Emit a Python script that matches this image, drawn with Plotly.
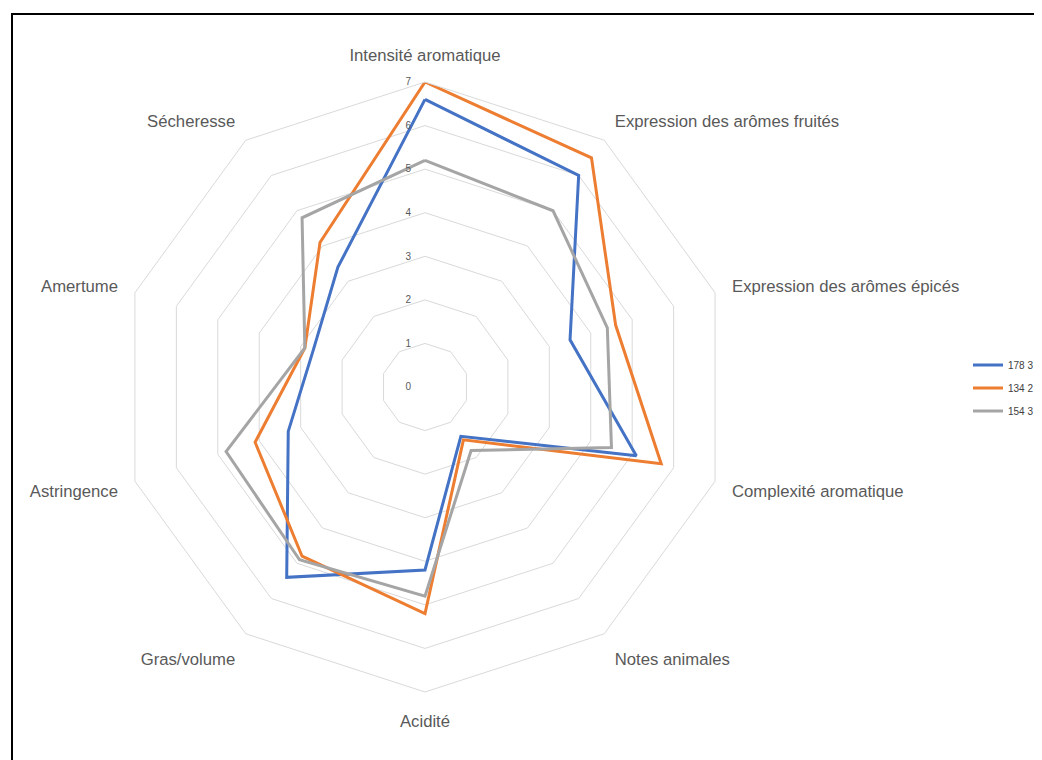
import plotly.graph_objects as go

categories = ["Intensité aromatique", "Expression des arômes fruités", "Expression des arômes épicés",
              "Complexité aromatique", "Notes animales", "Acidité", "Gras/volume",
              "Astringence", "Amertume", "Sécheresse"]

series_names = ["178 3", "134 2", "154 3"]
s1 = [6.6, 6.0, 3.5, 5.1, 1.4, 4.2, 5.4, 3.3, 2.7, 3.4]
s2 = [7.0, 6.5, 4.6, 5.7, 1.5, 5.2, 4.8, 4.1, 2.9, 4.1]
s3 = [5.2, 5.0, 4.4, 4.5, 1.8, 4.8, 4.9, 4.8, 2.9, 4.8]
colors = ["#4472C4", "#ED7D31", "#A5A5A5"]
radial_ticks = [0, 1, 2, 3, 4, 5, 6, 7]

# page body has an 8px margin: work in figure coordinates = screen - 8
OFF = 8
W, H = 1042 - OFF, 760 - OFF
cx, cy, R = 425 - OFF, 387 - OFF, 305

fig = go.Figure()
for name, vals, col in zip(series_names, [s1, s2, s3], colors):
    fig.add_trace(go.Scatterpolar(
        r=vals + vals[:1], theta=categories + categories[:1],
        mode="lines", name=name, legendgroup=name,
        line=dict(color=col, width=3),
    ))

font_family = "Liberation Sans, Arial, sans-serif"
fig.update_layout(
    width=W, height=H,
    margin=dict(l=0, r=0, t=0, b=0, autoexpand=False),
    paper_bgcolor="white",
    font=dict(family=font_family, color="#595959"),
    polar=dict(
        domain=dict(x=[(cx - R) / W, (cx + R) / W], y=[(H - cy - R) / H, (H - cy + R) / H]),
        bgcolor="white",
        gridshape="linear",
        radialaxis=dict(
            range=[0, 7], tickvals=radial_ticks, angle=90, side="counterclockwise",
            tickangle=90,
            showline=False, gridcolor="#D9D9D9", gridwidth=1,
            tickfont=dict(size=10, color="#595959"),
            ticks="outside", ticklen=10, tickcolor="rgba(0,0,0,0)",
        ),
        angularaxis=dict(
            rotation=90, direction="clockwise", showgrid=False,
            showline=True, linecolor="#D9D9D9", linewidth=1,
            ticks="outside", ticklen=14, tickcolor="rgba(0,0,0,0)",
            tickfont=dict(size=16.7, color="#595959"),
        ),
    ),
    showlegend=True,
    legend=dict(
        x=(968 - OFF) / W, y=1 - (388 - OFF) / H, xanchor="left", yanchor="middle",
        font=dict(size=10, color="#404040"), bgcolor="rgba(0,0,0,0)",
        itemwidth=30, tracegroupgap=4,
    ),
    shapes=[dict(
        type="rect", xref="paper", yref="paper",
        x0=(12 - OFF) / W, x1=1.2, y0=-0.2, y1=1 - (14 - OFF) / H,
        line=dict(color="black", width=2), fillcolor="rgba(0,0,0,0)", layer="below",
    )],
)

fig.write_html("out.html")
